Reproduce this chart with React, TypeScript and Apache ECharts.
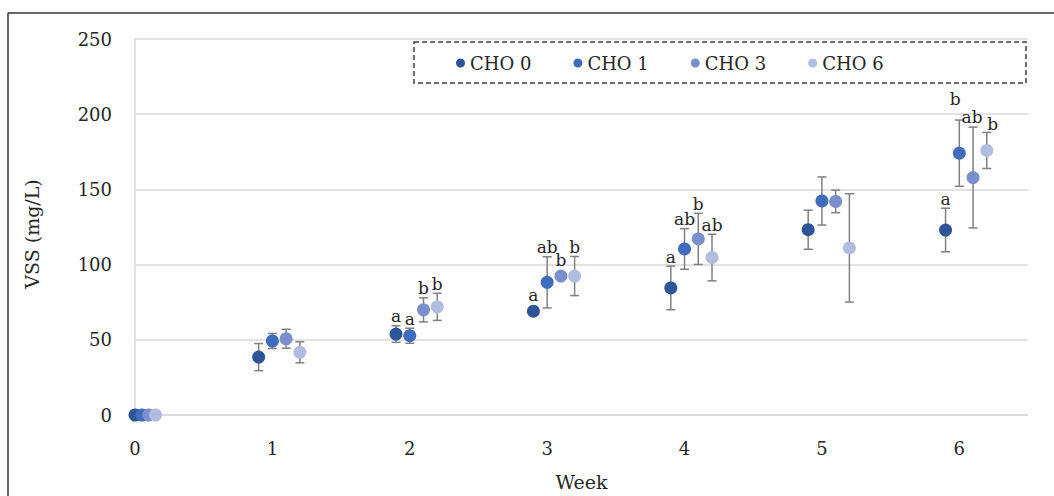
import React, { useEffect, useRef } from "react";
import * as echarts from "echarts";

const seriesNames = ["CHO 0", "CHO 1", "CHO 3", "CHO 6"];
const seriesColors = ["#2E5598", "#3F6CBC", "#7A8FCC", "#B0BCE0"];

// x positions (week, with the offset the original uses for each treatment)
const cho0X = [0, 0.9, 1.9, 2.9, 3.9, 4.9, 5.9];
const cho1X = [0.05, 1, 2, 3, 4, 5, 6];
const cho3X = [0.1, 1.1, 2.1, 3.1, 4.1, 5.1, 6.1];
const cho6X = [0.15, 1.2, 2.2, 3.2, 4.2, 5.2, 6.2];

// mean VSS (mg/L)
const cho0Mean = [0, 38.5, 53.8, 69, 84.5, 123.2, 123];
const cho1Mean = [0, 49.2, 52.7, 88.2, 110.4, 142.3, 174.1];
const cho3Mean = [0, 50.7, 69.9, 92.4, 117.1, 142, 157.9];
const cho6Mean = [0, 41.7, 71.9, 92.4, 104.7, 111.1, 175.9];

// error (±)
const cho0Err = [0, 9, 5.5, 0, 14.5, 13, 14.5];
const cho1Err = [0, 5, 5, 17, 13.5, 16, 22];
const cho3Err = [0, 6.3, 8, 0, 17, 7.5, 33.5];
const cho6Err = [0, 7, 9, 13, 15.5, 36, 12];

// significance letters
const cho0Letters = ["", "", "a", "a", "a", "", "a"];
const cho1Letters = ["", "", "a", "ab", "ab", "", "b"];
const cho3Letters = ["", "", "b", "b", "b", "", "ab"];
const cho6Letters = ["", "", "b", "b", "ab", "", "b"];

const yTicks = { min: 0, max: 250, interval: 50 };
const xTicks = { min: 0, max: 6.5, interval: 1 };

// layout tweak (pixels) for crowded letter labels: "series-index" -> [dx, dy]
const LABEL_NUDGE: Record<string, [number, number]> = {
  "1-6": [-4, -12],
  "2-6": [-1, -1],
  "3-6": [6, 1],
};

const FONT = '"DejaVu Serif", "Liberation Serif", serif';
const TEXT = "#262626";

export default function App() {
  const ref = useRef<HTMLDivElement>(null);

  useEffect(() => {
    if (!ref.current) return;
    const chart = echarts.init(ref.current, undefined, { renderer: "svg" });

    const xs = [cho0X, cho1X, cho3X, cho6X];
    const means = [cho0Mean, cho1Mean, cho3Mean, cho6Mean];
    const errs = [cho0Err, cho1Err, cho3Err, cho6Err];
    const letters = [cho0Letters, cho1Letters, cho3Letters, cho6Letters];

    const errSeries = seriesNames.map((name, si) => ({
      name: name + " err",
      type: "custom",
      z: 1,
      data: xs[si].map((x, i) => [x, means[si][i], errs[si][i]]),
      encode: { x: 0, y: 1 },
      renderItem: (params: any, api: any) => {
        const x = api.value(0);
        const y = api.value(1);
        const e = api.value(2);
        const c = api.coord([x, y]);
        const children: any[] = [];
        let topY = c[1] - 7;
        if (e > 0) {
          const hi = api.coord([x, y + e]);
          const lo = api.coord([x, y - e]);
          const st = { stroke: "#808080", lineWidth: 1.5 };
          children.push({ type: "line", shape: { x1: c[0], y1: hi[1], x2: c[0], y2: lo[1] }, style: st });
          children.push({ type: "line", shape: { x1: c[0] - 4.5, y1: hi[1], x2: c[0] + 4.5, y2: hi[1] }, style: st });
          children.push({ type: "line", shape: { x1: c[0] - 4.5, y1: lo[1], x2: c[0] + 4.5, y2: lo[1] }, style: st });
          topY = Math.min(topY, hi[1]);
        }
        const lab = letters[si][params.dataIndex];
        if (lab) {
          const nudge = LABEL_NUDGE[si + "-" + params.dataIndex] || [0, 0];
          children.push({
            type: "text",
            x: c[0] + nudge[0],
            y: topY - 1 + nudge[1],
            style: {
              text: lab,
              fontSize: 17,
              fontFamily: FONT,
              fill: TEXT,
              align: "center",
              verticalAlign: "bottom",
            },
          });
        }
        return { type: "group", children };
      },
    }));

    const scatterSeries = seriesNames.map((name, si) => ({
      name,
      type: "scatter",
      z: 3,
      symbol: "circle",
      symbolSize: 13,
      itemStyle: { color: seriesColors[si], opacity: 1 },
      data: xs[si].map((x, i) => [x, means[si][i]]),
    }));

    chart.setOption({
      animation: false,
      color: seriesColors,
      textStyle: { fontFamily: FONT },
      grid: { left: 135, right: 26, top: 39, bottom: 77 },
      legend: {
        data: seriesNames,
        left: 451,
        top: 49,
        icon: "circle",
        itemWidth: 9,
        itemHeight: 9,
        itemGap: 42,
        textStyle: { fontSize: 18, fontFamily: FONT, color: TEXT },
      },
      graphic: [
        {
          type: "rect",
          shape: { x: 414, y: 42, width: 612, height: 41 },
          style: { fill: "none", stroke: "#404040", lineWidth: 1.5, lineDash: [5, 3] },
          z: 10,
        },
        {
          type: "line",
          shape: { x1: 8, y1: 13, x2: 1054, y2: 13 },
          style: { stroke: "#333333", lineWidth: 1.5 },
        },
        {
          type: "line",
          shape: { x1: 8, y1: 13, x2: 8, y2: 496 },
          style: { stroke: "#333333", lineWidth: 1.5 },
        },
      ],
      xAxis: {
        type: "value",
        min: xTicks.min,
        max: xTicks.max,
        interval: xTicks.interval,
        name: "Week",
        nameLocation: "middle",
        nameGap: 57,
        nameTextStyle: { fontSize: 19, fontFamily: FONT, color: TEXT },
        axisLine: { show: true, lineStyle: { color: "#D9D9D9", width: 1.5 } },
        axisTick: { show: false },
        splitLine: { show: false },
        axisLabel: {
          margin: 24,
          fontSize: 18,
          fontFamily: FONT,
          color: TEXT,
          formatter: (v: number) => (Number.isInteger(v) ? String(v) : ""),
        },
      },
      yAxis: {
        type: "value",
        min: yTicks.min,
        max: yTicks.max,
        interval: yTicks.interval,
        name: "VSS (mg/L)",
        nameLocation: "middle",
        nameRotate: 90,
        nameGap: 94,
        nameTextStyle: { fontSize: 19, fontFamily: FONT, color: TEXT, padding: [0, 14, 0, 0] },
        axisLine: { show: true, lineStyle: { color: "#D9D9D9", width: 1.5 } },
        axisTick: { show: false },
        splitLine: { show: true, lineStyle: { color: "#D9D9D9", width: 1.5 } },
        axisLabel: { margin: 23, fontSize: 18, fontFamily: FONT, color: TEXT },
      },
      series: [...errSeries, ...scatterSeries],
    });

    return () => chart.dispose();
  }, []);

  return (
    <div
      ref={ref}
      style={{ position: "fixed", left: 0, top: 0, width: 1054, height: 496, background: "#ffffff" }}
    />
  );
}
